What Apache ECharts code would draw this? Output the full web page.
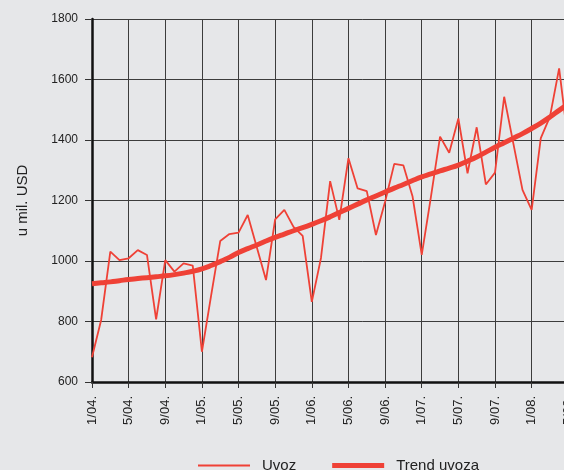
<!DOCTYPE html>
<html>
<head>
<meta charset="utf-8">
<script src="https://cdn.jsdelivr.net/npm/echarts@6/dist/echarts.min.js"></script>
<style>
  html, body { margin: 0; padding: 0; background: #e6e7e9; overflow: hidden; }
  #chart { width: 700px; height: 470px; }
</style>
</head>
<body>
<div id="chart"></div>
<script>
// mjeseci 1/04. - 12/08.
const years = ['04', '05', '06', '07', '08']
const months = [1, 2, 3, 4, 5, 6, 7, 8, 9, 10, 11, 12]
const categories = []
for (const y of years) {
  for (const m of months) categories.push(m + '/' + y + '.')
}

// uvoz, u mil. USD (očitano sa slike)
const uvoz = [
  682, 805, 1031, 1003, 1009, 1036, 1020, 807, 1003, 965, 992, 985,
  700, 885, 1066, 1089, 1094, 1152, 1045, 937, 1138, 1169, 1113, 1083,
  865, 1010, 1264, 1136, 1340, 1240, 1231, 1086, 1196, 1321, 1316, 1213,
  1020, 1211, 1411, 1358, 1471, 1290, 1442, 1253, 1292, 1543, 1389, 1235,
  1169, 1406, 1477, 1637, 1390
]

// trend uvoza
const trend = [
  925, 928, 931, 935, 939, 942, 945, 948, 951, 955, 960, 966,
  974, 985, 998, 1012, 1028, 1041, 1053, 1066, 1078, 1089, 1100, 1110,
  1121, 1133, 1146, 1160, 1174, 1188, 1202, 1215, 1228, 1241, 1253, 1266,
  1278, 1288, 1298, 1307, 1317, 1330, 1344, 1360, 1376, 1391, 1406, 1421,
  1438, 1456, 1476, 1498, 1520
]

const red = '#ef4136'
const gridColor = '#3c3c3c'

const chart = echarts.init(document.getElementById('chart'))
chart.setOption({
  backgroundColor: '#e6e7e9',
  animation: false,
  textStyle: { fontFamily: 'Liberation Sans, Arial, sans-serif', color: '#222' },
  grid: { left: 92, top: 19, height: 363, width: 540.4, containLabel: false },
  legend: {
    left: 193,
    top: 453,
    itemWidth: 52,
    itemHeight: 14,
    itemGap: 36,
    textStyle: { fontSize: 15, color: '#222', padding: [0, 0, 0, 7] },
    data: [
      { name: 'Uvoz', icon: 'path://M0,0H52V2H0Z', itemStyle: { color: red, borderWidth: 0 } },
      { name: 'Trend uvoza', icon: 'path://M0,0H52V5H0Z', itemStyle: { color: red, borderWidth: 0 } }
    ]
  },
  xAxis: {
    type: 'category',
    data: categories,
    boundaryGap: false,
    axisLine: { lineStyle: { color: '#111', width: 2.5 } },
    axisTick: { interval: 3, length: 6, lineStyle: { color: '#333', width: 1 } },
    axisLabel: { interval: 3, rotate: 90, margin: 14, fontSize: 13, color: '#222' },
    splitLine: { show: true, interval: 3, lineStyle: { color: gridColor, width: 1 } }
  },
  yAxis: {
    type: 'value',
    min: 600,
    max: 1800,
    interval: 200,
    name: 'u mil. USD',
    nameLocation: 'middle',
    nameRotate: 90,
    nameGap: 62,
    nameTextStyle: { fontSize: 15, color: '#222' },
    axisLine: { show: true, lineStyle: { color: '#111', width: 2.5 } },
    axisTick: { show: true, length: 7, lineStyle: { color: '#333', width: 1 } },
    axisLabel: { margin: 14, fontSize: 12, color: '#222', formatter: v => String(v) },
    splitLine: { show: true, lineStyle: { color: gridColor, width: 1 } }
  },
  series: [
    {
      name: 'Uvoz',
      type: 'line',
      data: uvoz,
      symbol: 'none',
      lineStyle: { color: red, width: 1.8 },
      itemStyle: { color: red }
    },
    {
      name: 'Trend uvoza',
      type: 'line',
      data: trend,
      symbol: 'none',
      smooth: true,
      lineStyle: { color: red, width: 5 },
      itemStyle: { color: red }
    }
  ]
})
</script>
</body>
</html>
